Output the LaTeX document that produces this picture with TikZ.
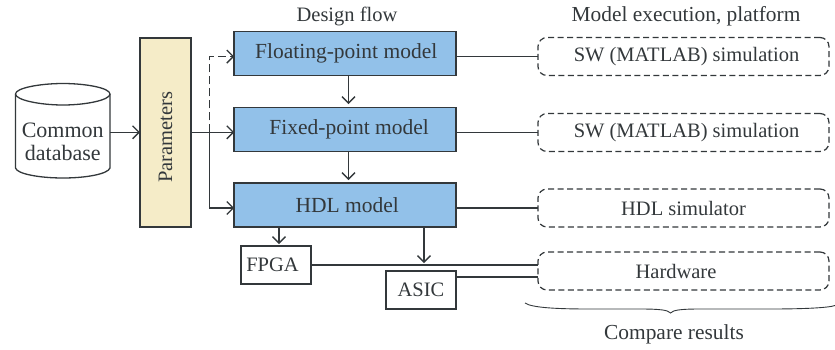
\documentclass[tikz,border=0pt]{standalone}
\usepackage{fontspec}
\setmainfont{Liberation Serif}
\usetikzlibrary{arrows.meta}
\definecolor{ink}{HTML}{33383B}
\definecolor{modelblue}{HTML}{92C1E9}
\definecolor{paramyellow}{HTML}{F5ECC8}
\tikzset{
 x=1pt,y=-1pt,
 every node/.style={text=ink,font=\fontsize{20.5}{24}\selectfont,inner sep=0pt,outer sep=0pt},
 large label/.style={font=\fontsize{21.4}{24}\selectfont},
 line/.style={draw=ink,line width=1.3pt},
 arr/.style={line,-{Straight Barb[length=6.5pt,width=13pt,line width=1.3pt]}},
 model/.style={draw=ink,line width=1.5pt,fill=modelblue,minimum width=222,minimum height=44,font=\fontsize{21.5}{24}\selectfont},
 chip/.style={draw=ink,line width=1.2pt,fill=white,minimum width=70,minimum height=38},
 platform/.style={draw=ink,line width=1.2pt,dash pattern=on 6pt off 3.5pt,rounded corners=9pt,minimum width=291,minimum height=38},
}
\begin{document}
\begin{tikzpicture}
\useasboundingbox (0,0) rectangle (835,349);
\node (flowt) at (347,16) {Design flow};
\node[large label] (exect) at (686,16) {Model execution, platform};
% database
\draw[line] (15.5,94) -- (15.5,168) .. controls (17,174) and (40,178) .. (63,178) .. controls (86,178) and (108,174) .. (110,168) -- (110,94);
\draw[line] (63,83.5) .. controls (40,83.5) and (15.5,88) .. (15.5,94) .. controls (15.5,100) and (40,105) .. (63,105) .. controls (86,105) and (110,100) .. (110,94) .. controls (110,88) and (86,83.5) .. (63,83.5);
\node[minimum width=94.5,minimum height=74,align=center,font=\fontsize{22}{23.5}\selectfont] (db) at (62.75,142) {Common\\[0pt]database};
\node[draw=ink,line width=1.2pt,fill=paramyellow,minimum width=51,minimum height=189] (par) at (165.5,132.5) {\rotatebox{90}{\hspace{-9pt}Parameters}};
\node[model] (float) at (345.2,53.6) {\hspace{2pt}Floating-point model};
\node[model] (fixed) at (345.2,129.6) {\hspace{8pt}Fixed-point model};
\node[model] (hdl) at (345.2,205) {\hspace{4pt}HDL model};
\node[chip] (fpga) at (276,265) {\hspace{-7pt}FPGA};
\node[chip] (asic) at (421,290) {ASIC};
\node[platform] (p1) at (683.5,56.5) {\hspace{6pt}SW (MATLAB) simulation};
\node[platform] (p2) at (683.5,132.5) {\hspace{6pt}SW (MATLAB) simulation};
\node[platform] (p3) at (683.5,208) {HDL simulator};
\node[platform] (p4) at (683.5,271) {\hspace{-15pt}Hardware};
\node[large label] (cmp) at (674,334) {Compare results};
\coordinate (j) at (209.5,132.3);
\coordinate (floatin) at ([yshift=-3]float.west);
\coordinate (fixedin) at (j -| fixed.west);
\coordinate (hdlin) at ([yshift=-3]hdl.west);
\draw[arr] (db.east |- j) -- (par.west |- j);
\draw[arr] (par.east |- j) -- (fixedin);
\draw[arr] (j) |- (hdlin);
\draw[arr,dash pattern=on 8pt off 4pt] (j) |- (floatin);
\draw[arr] (348.5,75) -- (348.5,104);
\draw[arr] (348.5,151) -- (348.5,180);
\draw[arr] (279,227) -- (279,244);
\draw[arr] (424,227) -- (424,263);
\draw[line] (456,56.5) -- (p1.west);
\draw[line] (456,132.5) -- (p2.west);
\draw[line] (456,208) -- (p3.west);
\draw[line] (fpga.east) -- (fpga.east -| p4.west);
\coordinate (asicout) at (asic.east |- 0,277);
\draw[line] (asicout) -- (asicout -| p4.west);
\draw[draw=ink,line width=0.9pt] (525,303) .. controls (532,308) and (560,309) .. (590,309) -- (640,309) .. controls (660,309) and (668,310) .. (670.5,313) .. controls (673,310) and (681,309) .. (700,309) -- (770,309) .. controls (800,309) and (828,308) .. (835,305.5);
\end{tikzpicture}
\end{document}
